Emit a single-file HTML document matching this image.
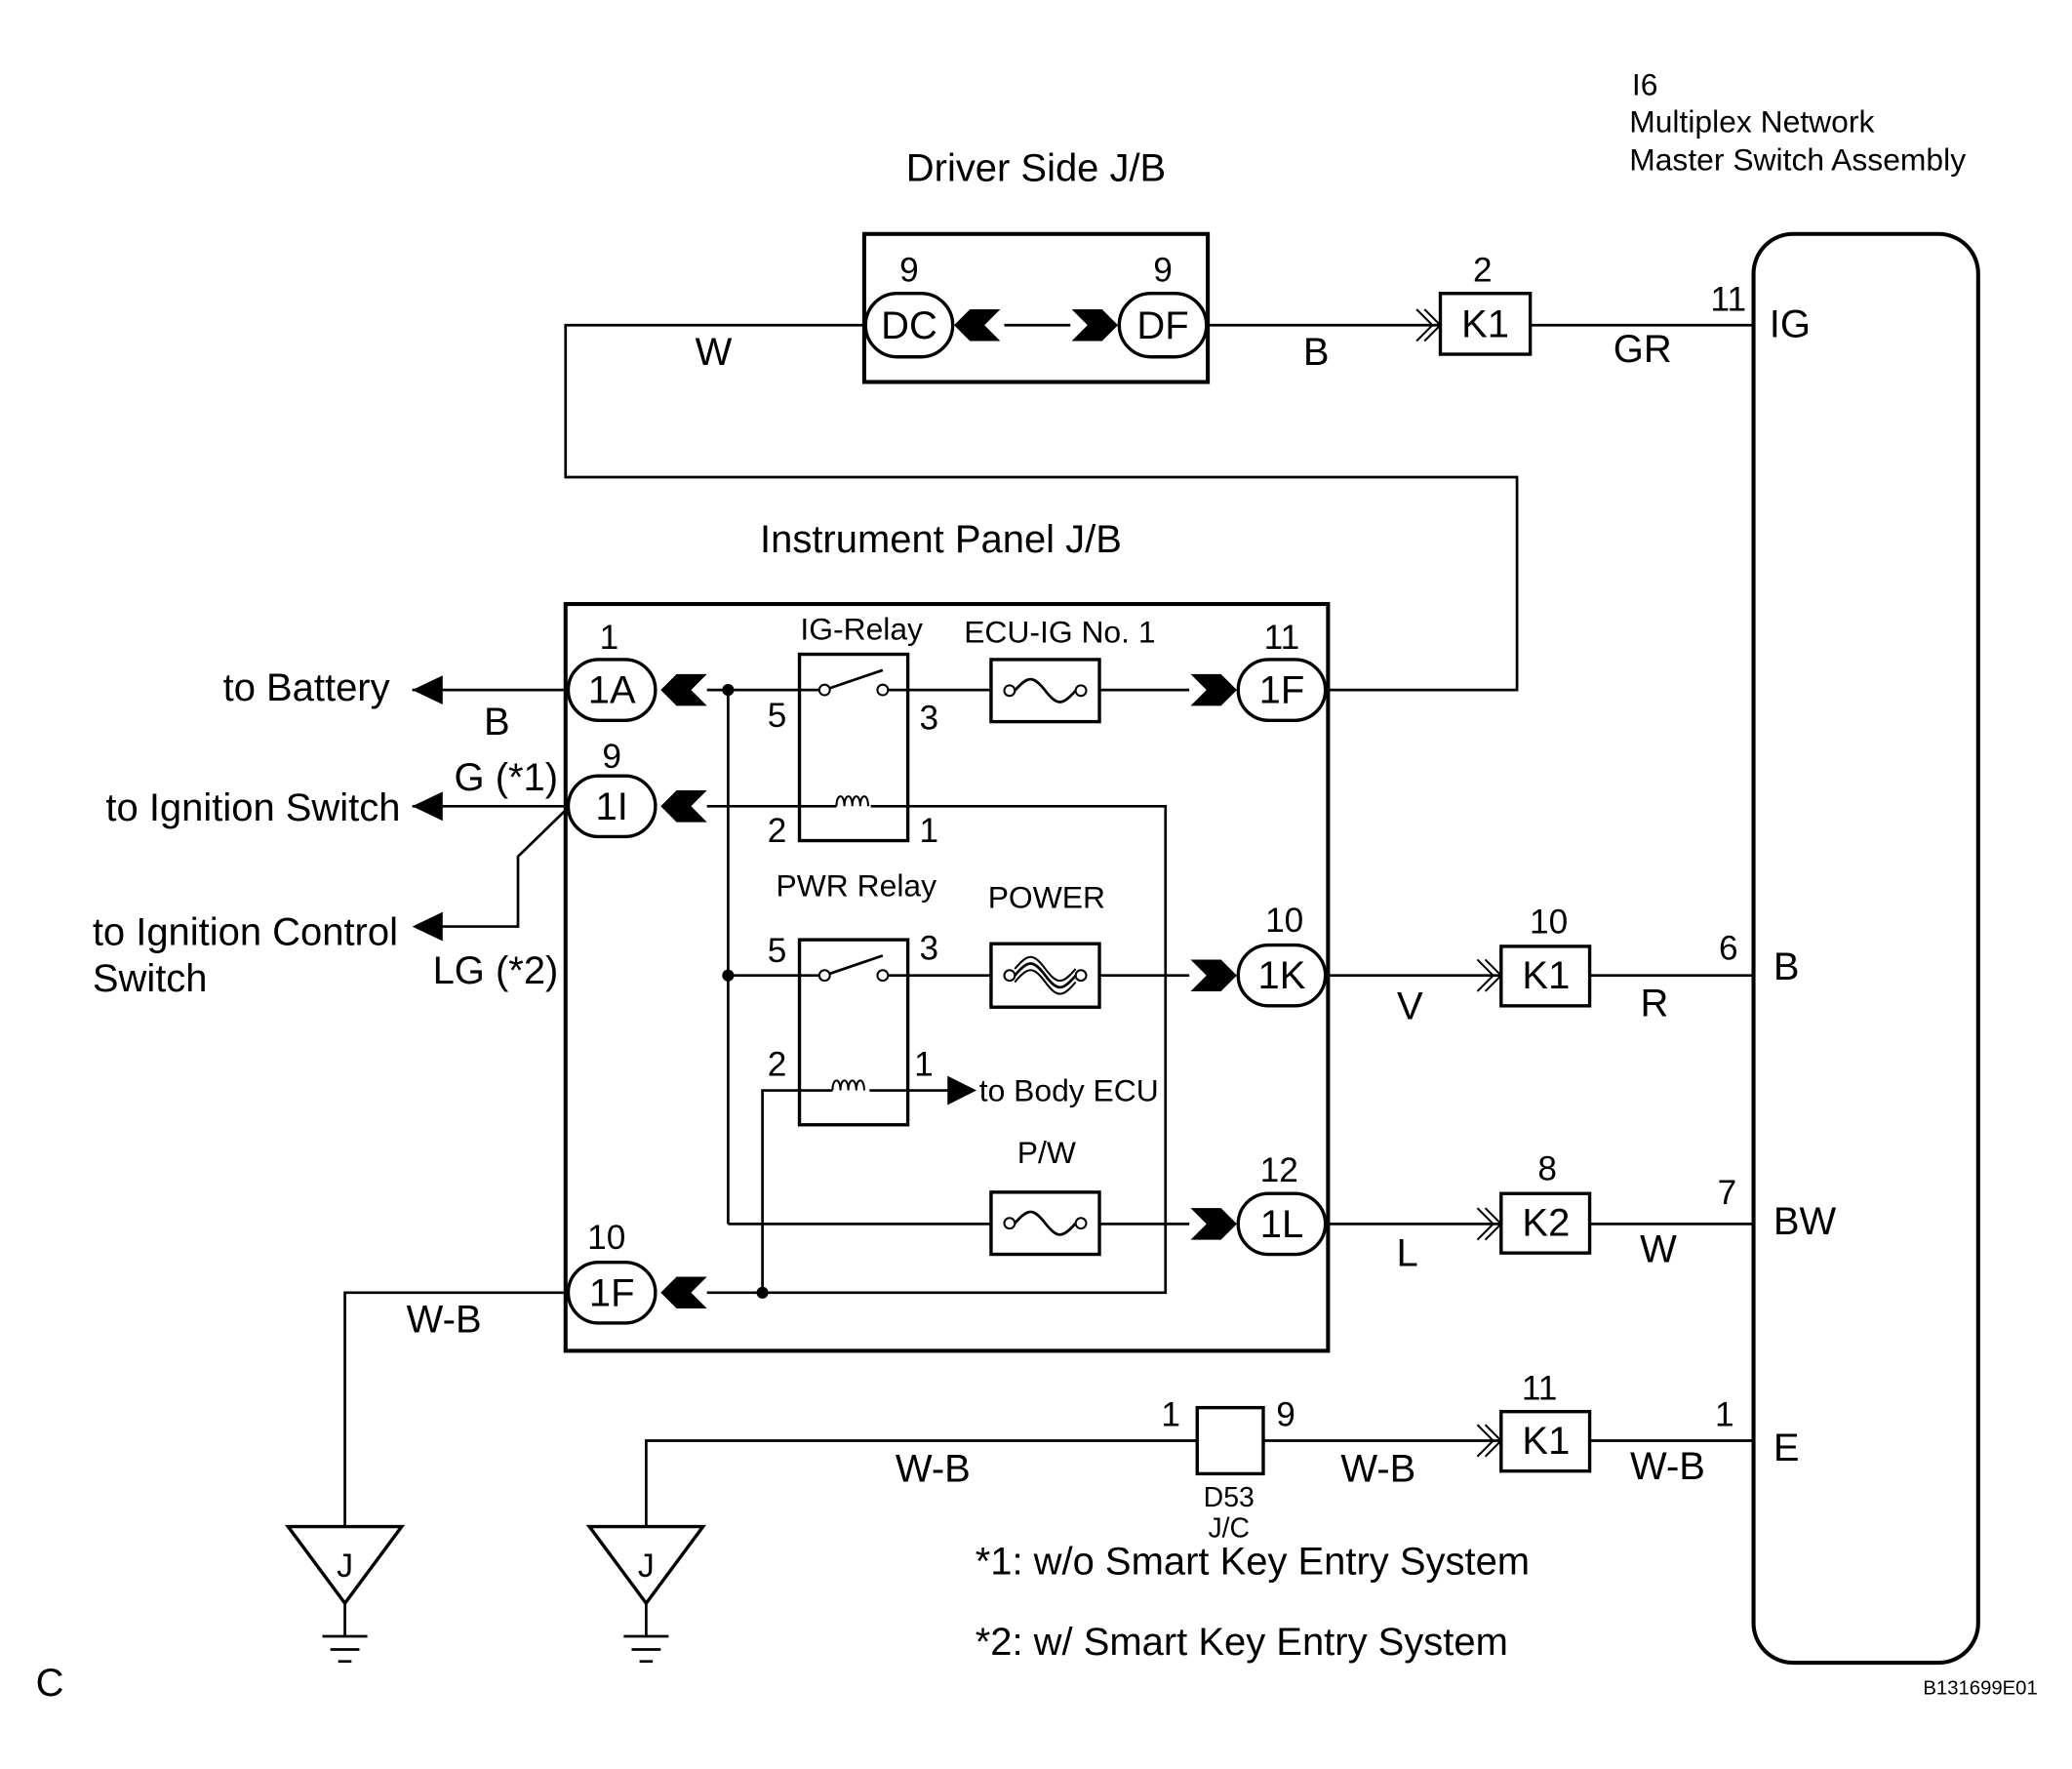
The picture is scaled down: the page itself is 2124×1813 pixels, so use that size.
<!DOCTYPE html>
<html><head><meta charset="utf-8"><style>
html,body{margin:0;padding:0;background:#fff;}
svg{display:block;}
text{font-family:"Liberation Sans",sans-serif;fill:#000;}
</style></head><body>
<svg width="2124" height="1813" viewBox="0 0 1568 1338.4" xmlns="http://www.w3.org/2000/svg">
<defs>
<g id="chl"><polygon points="0,0 12,-12 35,-12 23,0 35,12 12,12" fill="#000"/></g>
<g id="chr"><polygon points="0,0 -12,-12 -35,-12 -23,0 -35,12 -12,12" fill="#000"/></g>
<g id="open"><polyline points="-18,-12 -6,0 -18,12" fill="none" stroke="#000" stroke-width="1.5"/><polyline points="-12,-12 0,0 -12,12" fill="none" stroke="#000" stroke-width="1.5"/></g>
<g id="fuse"><rect x="0" y="0" width="82" height="47" fill="#fff" stroke="#000" stroke-width="2.5"/><circle cx="14" cy="23.5" r="4" fill="#fff" stroke="#000" stroke-width="1.5"/><circle cx="68" cy="23.5" r="4" fill="#fff" stroke="#000" stroke-width="1.5"/><path d="M18,23.5 C28,12 32,12 41,23.5 C50,35 54,35 64,23.5" fill="none" stroke="#000" stroke-width="2"/></g>
<g id="gnd"><polygon points="-43,0 43,0 0,58" fill="#fff" stroke="#000" stroke-width="2.5"/><text x="0" y="38" font-size="25" text-anchor="middle">J</text><line x1="0" y1="58" x2="0" y2="83" stroke="#000" stroke-width="2"/><line x1="-17" y1="83" x2="17" y2="83" stroke="#000" stroke-width="2"/><line x1="-11" y1="93" x2="11" y2="93" stroke="#000" stroke-width="2"/><line x1="-5" y1="102" x2="5" y2="102" stroke="#000" stroke-width="2"/></g>
</defs>
<g stroke="#000" stroke-width="2" fill="none">
<polyline points="654,246 428,246 428,361 1148,361 1148,522 1005,522"/>
<line x1="760" y1="246" x2="810" y2="246"/>
<line x1="914" y1="246" x2="1090" y2="246"/>
<line x1="1158" y1="246" x2="1327" y2="246"/>
<rect x="654" y="177" width="260" height="112" stroke-width="3"/>
<rect x="1327" y="177" width="170" height="1081" rx="30" stroke-width="3"/>
<rect x="428" y="457" width="577" height="565" stroke-width="3"/>
<line x1="312" y1="522" x2="428" y2="522"/>
<line x1="535" y1="522" x2="621" y2="522"/>
<line x1="671" y1="522" x2="750" y2="522"/>
<line x1="832" y1="522" x2="900" y2="522"/>
<line x1="312" y1="610" x2="428" y2="610"/>
<polyline points="428,613 392,648 392,701 330,701"/>
<polyline points="535,610 633,610"/>
<polyline points="659,610 882,610 882,978 535,978"/>
<line x1="551" y1="522" x2="551" y2="926"/>
<line x1="551" y1="738" x2="621" y2="738"/>
<line x1="671" y1="738" x2="750" y2="738"/>
<line x1="832" y1="738" x2="900" y2="738"/>
<line x1="551" y1="926" x2="750" y2="926"/>
<line x1="832" y1="926" x2="900" y2="926"/>
<polyline points="577,978 577,825 630,825"/>
<line x1="658" y1="825" x2="720" y2="825"/>
<polyline points="428,978 261,978 261,1155"/>
<polyline points="906,1090 489,1090 489,1155"/>
<line x1="956" y1="1090" x2="1136" y2="1090"/>
<line x1="1203" y1="1090" x2="1327" y2="1090"/>
<line x1="1005" y1="738" x2="1136" y2="738"/>
<line x1="1203" y1="738" x2="1327" y2="738"/>
<line x1="1005" y1="926" x2="1136" y2="926"/>
<line x1="1203" y1="926" x2="1327" y2="926"/>
<rect x="605" y="495" width="82" height="141" stroke-width="2.5"/>
<rect x="605" y="711" width="82" height="140" stroke-width="2.5"/>
<line x1="627" y1="521" x2="668" y2="507"/>
<line x1="627" y1="737" x2="668" y2="723"/>
<path d="M633,610 c0,-10 6,-10 6,0 c0,-10 6,-10 6,0 c0,-10 6,-10 6,0 c0,-10 6,-10 6,0" stroke-width="1.5"/>
<path d="M630,825 c0,-10 6,-10 6,0 c0,-10 6,-10 6,0 c0,-10 6,-10 6,0 c0,-10 6,-10 6,0" stroke-width="1.5"/>
<rect x="1090" y="222" width="68" height="46" stroke-width="2.5"/>
<rect x="1136" y="716" width="67" height="45" stroke-width="2.5"/>
<rect x="1136" y="903" width="67" height="45" stroke-width="2.5"/>
<rect x="1136" y="1068" width="67" height="45" stroke-width="2.5"/>
<rect x="906" y="1065" width="50" height="50" stroke-width="2.5"/>
<rect x="655" y="222" width="66" height="48" rx="24" fill="#fff" stroke-width="2.5"/>
<rect x="847" y="222" width="66" height="48" rx="24" fill="#fff" stroke-width="2.5"/>
<rect x="430" y="499" width="66" height="46" rx="23" fill="#fff" stroke-width="2.5"/>
<rect x="430" y="587" width="66" height="46" rx="23" fill="#fff" stroke-width="2.5"/>
<rect x="430" y="955" width="66" height="46" rx="23" fill="#fff" stroke-width="2.5"/>
<rect x="937" y="499" width="66" height="46" rx="23" fill="#fff" stroke-width="2.5"/>
<rect x="937" y="715" width="66" height="46" rx="23" fill="#fff" stroke-width="2.5"/>
<rect x="937" y="903" width="66" height="46" rx="23" fill="#fff" stroke-width="2.5"/>
</g>
<g fill="#fff" stroke="#000" stroke-width="1.5">
<circle cx="624" cy="522" r="4"/><circle cx="668" cy="522" r="4"/>
<circle cx="624" cy="738" r="4"/><circle cx="668" cy="738" r="4"/>
</g>
<g fill="#000">
<circle cx="551" cy="522" r="4.5"/><circle cx="551" cy="738" r="4.5"/><circle cx="577" cy="978" r="4.5"/>
<polygon points="312,522 335,511 335,533"/>
<polygon points="312,610 335,599 335,621"/>
<polygon points="312,701 335,690 335,712"/>
<polygon points="739,825 717,814 717,836"/>
</g>
<use href="#chl" x="722" y="246"/><use href="#chr" x="846" y="246"/>
<use href="#chl" x="500" y="522"/><use href="#chl" x="500" y="610"/><use href="#chl" x="500" y="978"/>
<use href="#chr" x="936" y="522"/><use href="#chr" x="936" y="738"/><use href="#chr" x="936" y="926"/>
<use href="#open" x="1090" y="246"/><use href="#open" x="1136" y="738"/><use href="#open" x="1136" y="926"/><use href="#open" x="1136" y="1090"/>
<use href="#fuse" x="750" y="499"/><use href="#fuse" x="750" y="902"/>
<g>
<rect x="750" y="714" width="82" height="48" fill="#fff" stroke="#000" stroke-width="2.5"/>
<circle cx="764" cy="738" r="4" fill="#fff" stroke="#000" stroke-width="1.5"/><circle cx="818" cy="738" r="4" fill="#fff" stroke="#000" stroke-width="1.5"/>
<path d="M768,738 C778,726 782,726 791,738 C800,750 804,750 814,738" fill="none" stroke="#000" stroke-width="2"/>
<path d="M768,733 C778,721 782,721 791,733 C800,745 804,745 814,733" fill="none" stroke="#000" stroke-width="1.5"/>
<path d="M768,743 C778,731 782,731 791,743 C800,755 804,755 814,743" fill="none" stroke="#000" stroke-width="1.5"/>
</g>
<use href="#gnd" x="261" y="1155"/><use href="#gnd" x="489" y="1155"/>
<g font-size="29.5">
<text x="784" y="137" text-anchor="middle">Driver Side J/B</text>
<text x="712" y="418" text-anchor="middle">Instrument Panel J/B</text>
<text x="688" y="256" text-anchor="middle">DC</text><text x="880" y="256" text-anchor="middle">DF</text>
<text x="463" y="532" text-anchor="middle">1A</text><text x="463" y="620" text-anchor="middle">1I</text><text x="463" y="988" text-anchor="middle">1F</text>
<text x="970" y="532" text-anchor="middle">1F</text><text x="970" y="748" text-anchor="middle">1K</text><text x="970" y="936" text-anchor="middle">1L</text>
<text x="1124" y="255" text-anchor="middle">K1</text><text x="1170" y="748" text-anchor="middle">K1</text><text x="1170" y="935" text-anchor="middle">K2</text><text x="1170" y="1100" text-anchor="middle">K1</text>
<text x="540" y="276" text-anchor="middle">W</text><text x="996" y="276" text-anchor="middle">B</text><text x="1243" y="274" text-anchor="middle">GR</text>
<text x="1339" y="255">IG</text><text x="1342" y="741">B</text><text x="1342" y="934">BW</text><text x="1342" y="1105">E</text>
<text x="295" y="530" text-anchor="end">to Battery</text><text x="376" y="556" text-anchor="middle">B</text>
<text x="303" y="621" text-anchor="end">to Ignition Switch</text><text x="383" y="598" text-anchor="middle">G (*1)</text>
<text x="70" y="715">to Ignition Control</text><text x="70" y="750">Switch</text><text x="375" y="744" text-anchor="middle">LG (*2)</text>
<text x="336" y="1008" text-anchor="middle">W-B</text><text x="706" y="1121" text-anchor="middle">W-B</text><text x="1043" y="1121" text-anchor="middle">W-B</text><text x="1262" y="1119" text-anchor="middle">W-B</text>
<text x="1067" y="771" text-anchor="middle">V</text><text x="1252" y="769" text-anchor="middle">R</text>
<text x="1065" y="958" text-anchor="middle">L</text><text x="1255" y="955" text-anchor="middle">W</text>
<text x="738" y="1191">*1: w/o Smart Key Entry System</text><text x="738" y="1252">*2: w/ Smart Key Entry System</text>
<text x="27" y="1283">C</text>
</g>
<g font-size="26" text-anchor="middle">
<text x="688" y="213">9</text><text x="880" y="213">9</text><text x="1122" y="213">2</text><text x="1308" y="235">11</text>
<text x="461" y="491">1</text><text x="463" y="581">9</text><text x="459" y="945">10</text>
<text x="970" y="491">11</text><text x="972" y="705">10</text><text x="968" y="894">12</text>
<text x="588" y="550">5</text><text x="703" y="552">3</text><text x="588" y="637">2</text><text x="703" y="637">1</text>
<text x="588" y="728">5</text><text x="703" y="726">3</text><text x="588" y="814">2</text><text x="699" y="814">1</text>
<text x="1172" y="706">10</text><text x="1308" y="726">6</text><text x="1171" y="893">8</text><text x="1307" y="911">7</text>
<text x="1165" y="1059">11</text><text x="1305" y="1079">1</text><text x="886" y="1079">1</text><text x="973" y="1079">9</text>
</g>
<g font-size="23.5">
<text x="1235" y="72">I6</text><text x="1233" y="100">Multiplex Network</text><text x="1233" y="129">Master Switch Assembly</text>
<text x="652" y="484" text-anchor="middle">IG-Relay</text><text x="802" y="486" text-anchor="middle">ECU-IG No. 1</text>
<text x="648" y="678" text-anchor="middle">PWR Relay</text><text x="792" y="687" text-anchor="middle">POWER</text>
<text x="792" y="880" text-anchor="middle">P/W</text><text x="741" y="833">to Body ECU</text>
<text x="930" y="1140" font-size="21" text-anchor="middle">D53</text><text x="930" y="1163" font-size="21" text-anchor="middle">J/C</text>
<text x="1542" y="1282" font-size="15" text-anchor="end">B131699E01</text>
</g>
</svg>
</body></html>
